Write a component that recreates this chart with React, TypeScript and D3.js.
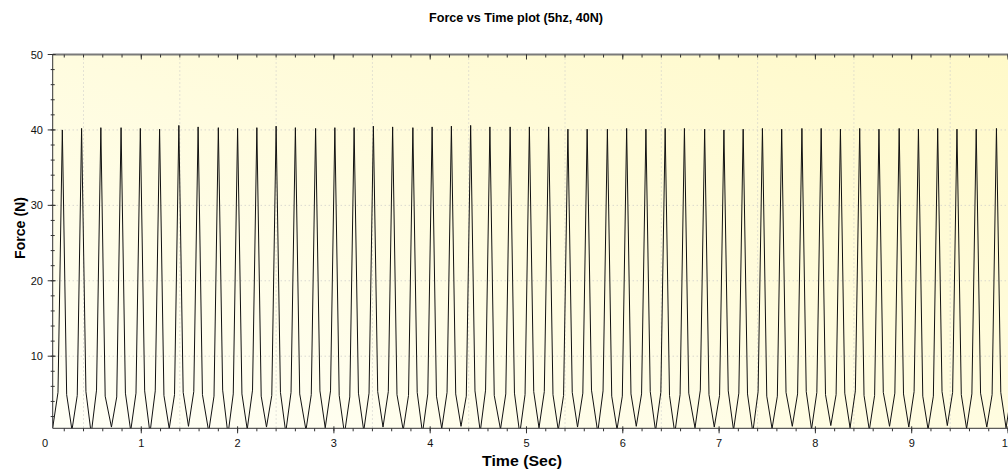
import React from "react";
import * as d3 from "d3";

// peaks of the 5 Hz force signal (sec, N)
const peakTimes = [
	0.18, 0.38, 0.58, 0.79, 0.99, 1.19, 1.39, 1.59, 1.8, 2.0,
	2.2, 2.4, 2.6, 2.81, 3.01, 3.21, 3.41, 3.61, 3.82, 4.02,
	4.22, 4.42, 4.62, 4.83, 5.03, 5.23, 5.43, 5.63, 5.84, 6.04,
	6.24, 6.44, 6.64, 6.85, 7.05, 7.25, 7.45, 7.65, 7.86, 8.06,
	8.26, 8.46, 8.66, 8.87, 9.07, 9.27, 9.47, 9.67, 9.88, 10.08,
];
const peakForces = [
	40.0, 40.2, 40.3, 40.3, 40.2, 40.1, 40.6, 40.4, 40.3, 40.2,
	40.3, 40.5, 40.3, 40.2, 40.3, 40.3, 40.5, 40.4, 40.3, 40.4,
	40.5, 40.6, 40.4, 40.4, 40.4, 40.4, 40.1, 40.1, 40.1, 40.2,
	40.1, 40.2, 40.2, 40.1, 40.0, 40.1, 40.2, 40.1, 40.2, 40.2,
	40.1, 40.2, 40.1, 40.2, 40.1, 40.2, 40.1, 40.1, 40.2, 40.2,
];
// knee where each spike leaves the baseline
const riseTimes = [
	0.135, 0.335, 0.535, 0.745, 0.945, 1.145, 1.345, 1.545, 1.755, 1.955,
	2.155, 2.355, 2.555, 2.765, 2.965, 3.165, 3.365, 3.565, 3.775, 3.975,
	4.175, 4.375, 4.575, 4.785, 4.985, 5.185, 5.385, 5.585, 5.795, 5.995,
	6.195, 6.395, 6.595, 6.805, 7.005, 7.205, 7.405, 7.605, 7.815, 8.015,
	8.215, 8.415, 8.615, 8.825, 9.025, 9.225, 9.425, 9.625, 9.835, 10.035,
];
const riseForces = [
	5.2, 4.8, 5.5, 4.6, 5.1, 5.4, 4.9, 5.3, 4.7, 5.0,
	5.5, 4.8, 5.2, 4.9, 5.4, 4.6, 5.1, 5.3, 4.8, 5.0,
	5.2, 4.7, 5.5, 5.0, 4.9, 5.3, 4.8, 5.1, 5.4, 4.7,
	5.0, 5.2, 4.9, 5.5, 4.8, 5.1, 5.3, 4.7, 5.0, 5.2,
	4.9, 5.4, 4.8, 5.1, 5.3, 4.7, 5.2, 5.0, 4.9, 5.1,
];
const fallTimes = [
	0.225, 0.425, 0.625, 0.835, 1.035, 1.235, 1.435, 1.635, 1.845, 2.045,
	2.245, 2.445, 2.645, 2.855, 3.055, 3.255, 3.455, 3.655, 3.865, 4.065,
	4.265, 4.465, 4.665, 4.875, 5.075, 5.275, 5.475, 5.675, 5.885, 6.085,
	6.285, 6.485, 6.685, 6.895, 7.095, 7.295, 7.495, 7.695, 7.905, 8.105,
	8.305, 8.505, 8.705, 8.915, 9.115, 9.315, 9.515, 9.715, 9.925, 10.125,
];
const fallForces = [
	4.9, 5.3, 4.7, 5.1, 5.4, 4.8, 5.2, 4.9, 5.5, 5.0,
	4.7, 5.2, 5.0, 5.4, 4.8, 5.1, 5.3, 4.9, 5.2, 4.7,
	5.0, 5.4, 4.8, 5.1, 5.3, 4.9, 5.2, 5.5, 4.7, 5.0,
	5.3, 4.8, 5.1, 4.9, 5.4, 5.0, 4.7, 5.2, 5.3, 4.9,
	5.1, 4.8, 5.2, 5.0, 4.7, 5.3, 4.9, 5.1, 5.2, 5.0,
];
// troughs between the spikes
const troughTimes = [
	0.08, 0.28, 0.48, 0.69, 0.89, 1.09, 1.29, 1.49, 1.7, 1.9,
	2.1, 2.3, 2.5, 2.71, 2.91, 3.11, 3.31, 3.51, 3.72, 3.92,
	4.12, 4.32, 4.52, 4.73, 4.93, 5.13, 5.33, 5.53, 5.74, 5.94,
	6.14, 6.34, 6.54, 6.75, 6.95, 7.15, 7.35, 7.55, 7.76, 7.96,
	8.16, 8.36, 8.56, 8.77, 8.97, 9.17, 9.37, 9.57, 9.78, 9.98,
	10.18,
];
const troughForces = [
	0.5, 0.2, -0.3, 0.6, 0.1, -0.2, 0.4, 0.7, 0.0, -0.4,
	0.3, 0.6, -0.1, 0.2, 0.5, -0.3, 0.1, 0.6, 0.2, -0.2,
	0.4, 0.7, 0.0, 0.3, -0.3, 0.5, 0.2, 0.6, -0.1, 0.3,
	0.7, 0.1, -0.2, 0.5, 0.6, 0.2, -0.1, 0.4, 0.7, 0.3,
	0.8, 0.5, 0.2, 0.7, 0.6, 0.3, 0.8, 0.4, 0.6, 0.5,
	0.4,
];

const xTicks = [0, 1, 2, 3, 4, 5, 6, 7, 8, 9, 10];
const yTicks = [10, 20, 30, 40, 50];

const W = 1008,
	H = 470;
const left = 52.7,
	top = 54.5,
	bottom = 428.3,
	right = 1040;

export default function App() {
	const x = d3.scaleLinear().domain([0.08, 10.3]).range([left, left + 10.22 * 96.3]);
	const y = d3.scaleLinear().domain([0.44, 50]).range([bottom, top]);

	const pairs = (ts: number[], fs: number[]) => ts.map((t, i) => [t, fs[i]]);
	const points = pairs(peakTimes, peakForces)
		.concat(pairs(riseTimes, riseForces))
		.concat(pairs(fallTimes, fallForces))
		.concat(pairs(troughTimes, troughForces))
		.sort((a, b) => a[0] - b[0]);

	const line = d3
		.line<number[]>()
		.x((d) => x(d[0]))
		.y((d) => y(d[1]));

	const minorX = d3.range(0.2, 10.3, 0.2);
	const minorY = d3.range(2, 50, 2);
	const gridX = d3.range(0.4, 10, 1);

	return (
		<svg
			width={W}
			height={H}
			style={{ position: "absolute", left: 0, top: 0, background: "#fff" }}
			fontFamily="'Liberation Sans', Arial, sans-serif"
		>
			<defs>
				<linearGradient id="bg" x1="0" y1="1" x2="1" y2="0">
					<stop offset="0" stopColor="#fffff6" />
					<stop offset="1" stopColor="#fff9c8" />
				</linearGradient>
				<clipPath id="plot">
					<rect x={left} y={top} width={right - left} height={bottom - top} />
				</clipPath>
			</defs>

			<rect x={left} y={top} width={right - left} height={bottom - top} fill="url(#bg)" />

			{/* dotted grid */}
			<g stroke="#c8c8c8" strokeDasharray="1,3" strokeWidth={1}>
				{gridX.map((v) => (
					<line key={"gx" + v} x1={x(v)} x2={x(v)} y1={top} y2={bottom} />
				))}
				{yTicks.map((v) => (
					<line key={"gy" + v} x1={left} x2={right} y1={y(v)} y2={y(v)} />
				))}
			</g>

			<path
				d={line(points) || ""}
				fill="none"
				stroke="#111"
				strokeWidth={1}
				clipPath="url(#plot)"
			/>

			{/* frame */}
			<line x1={left} x2={right} y1={top} y2={top} stroke="#7a7a7a" strokeWidth={2} />
			<line x1={left} x2={right} y1={bottom} y2={bottom} stroke="#333" strokeWidth={1} />
			<line x1={left} x2={left} y1={top} y2={bottom} stroke="#333" strokeWidth={1} />

			{/* ticks */}
			<g stroke="#333" strokeWidth={1}>
				{minorX.map((v) => (
					<g key={"mx" + v}>
						<line x1={x(v)} x2={x(v)} y1={bottom} y2={bottom + 3} />
						<line x1={x(v)} x2={x(v)} y1={top} y2={top + 3} />
					</g>
				))}
				{xTicks
					.filter((v) => v > 0.08)
					.map((v) => (
						<g key={"tx" + v}>
							<line x1={x(v)} x2={x(v)} y1={bottom - 2} y2={bottom + 5} />
							<line x1={x(v)} x2={x(v)} y1={top} y2={top + 5} />
						</g>
					))}
				{minorY.map((v) => (
					<line key={"my" + v} x1={left - 2} x2={left + 2} y1={y(v)} y2={y(v)} />
				))}
				{yTicks.map((v) => (
					<line key={"ty" + v} x1={left - 5} x2={left + 3} y1={y(v)} y2={y(v)} />
				))}
			</g>

			{/* tick labels */}
			<g fontSize={11} fill="#111">
				{xTicks.map((v) => (
					<text key={"lx" + v} x={x(v)} y={447} textAnchor="middle">
						{v}
					</text>
				))}
				{yTicks.map((v) => (
					<text key={"ly" + v} x={43} y={y(v) + 4} textAnchor="end">
						{v}
					</text>
				))}
			</g>

			<text
				x={516}
				y={22}
				textAnchor="middle"
				fontSize={13}
				fontWeight="bold"
				textLength={174}
				lengthAdjust="spacingAndGlyphs"
			>
				Force vs Time plot (5hz, 40N)
			</text>
			<text
				x={522}
				y={466}
				textAnchor="middle"
				fontSize={14}
				fontWeight="bold"
				textLength={80}
				lengthAdjust="spacingAndGlyphs"
			>
				Time (Sec)
			</text>
			<text
				transform="translate(25,228) rotate(-90)"
				textAnchor="middle"
				fontSize={14}
				fontWeight="bold"
				textLength={62}
				lengthAdjust="spacingAndGlyphs"
			>
				Force (N)
			</text>
		</svg>
	);
}
